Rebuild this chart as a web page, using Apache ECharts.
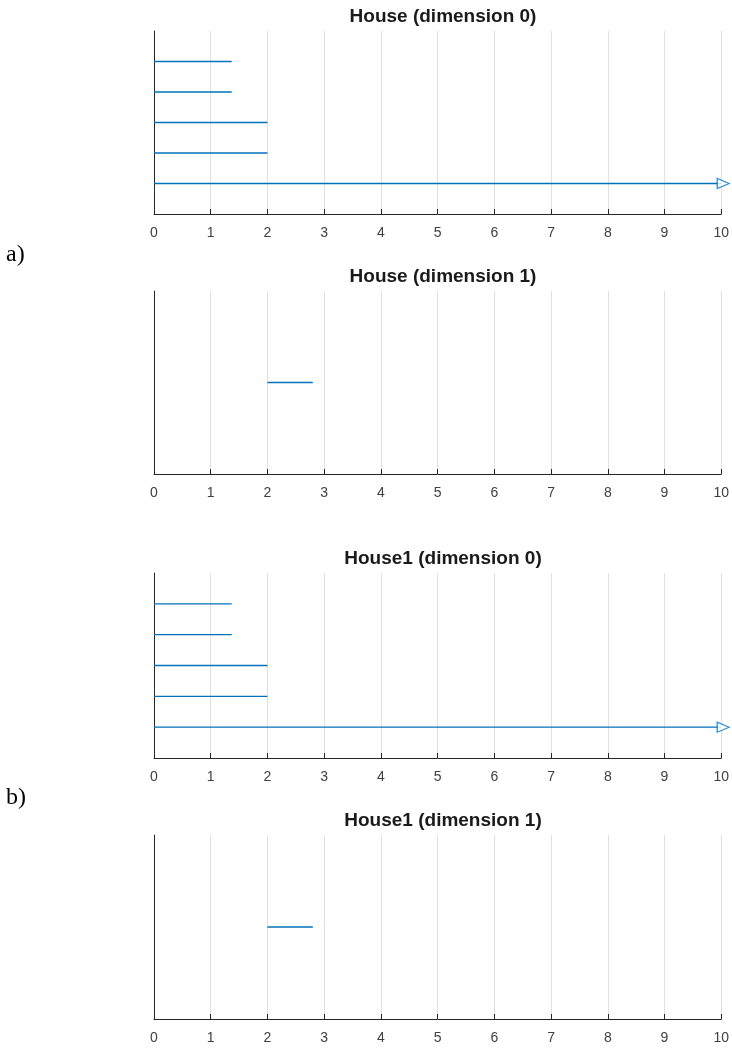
<!DOCTYPE html>
<html>
<head>
<meta charset="utf-8">
<script src="https://cdn.jsdelivr.net/npm/echarts@6/dist/echarts.min.js"></script>
<style>
html,body{margin:0;padding:0;background:#fff;}
#c{width:732px;height:1048px;}
</style>
</head>
<body>
<div id="c"></div>
<script>
// ---- data ----
const xTicks = [0,1,2,3,4,5,6,7,8,9,10];
const titles = ['House (dimension 0)','House (dimension 1)','House1 (dimension 0)','House1 (dimension 1)'];
const panelLabels = ['a)','b)'];
// bars listed top to bottom; null death = infinite (drawn to axis max with an arrow)
const houseDim0Births = [0,0,0,0,0];
const houseDim0Deaths = [1.37,1.37,2,2,null];
const houseDim1Births = [2];
const houseDim1Deaths = [2.8];
const house1Dim0Births = [0,0,0,0,0];
const house1Dim0Deaths = [1.37,1.37,2,2,null];
const house1Dim1Births = [2];
const house1Dim1Deaths = [2.8];

const panels = [
  {b: houseDim0Births, d: houseDim0Deaths},
  {b: houseDim1Births, d: houseDim1Deaths},
  {b: house1Dim0Births, d: house1Dim0Deaths},
  {b: house1Dim1Births, d: house1Dim1Deaths}
];
const xMax = xTicks[xTicks.length-1];

const gridPos = [
  {top:31, height:183},
  {top:291, height:183},
  {top:573, height:185},
  {top:835, height:184}
];
const blue = '#0072BD';
const axisCol = '#262626';

const option = {
  animation:false,
  backgroundColor:'#fff',
  title: titles.map((t,i)=>({
    text:t, left:438, textAlign:'center', top:gridPos[i].top-29,
    textStyle:{fontFamily:'Liberation Sans, Arial', fontSize:19, fontWeight:'bold', color:'#1a1a1a'}
  })),
  graphic: [
    {type:'text', left:6, top:243, style:{text:panelLabels[0], font:'24px "Liberation Serif", serif', fill:'#000'}},
    {type:'text', left:6, top:786, style:{text:panelLabels[1], font:'24px "Liberation Serif", serif', fill:'#000'}}
  ],
  grid: gridPos.map(g=>({left:154, right:10, top:g.top, height:g.height, containLabel:false})),
  xAxis: gridPos.map((g,i)=>({
    type:'value', gridIndex:i, min:0, max:xMax, interval:1,
    axisLine:{show:true, lineStyle:{color:axisCol, width:1}},
    axisTick:{show:true, inside:true, length:5, lineStyle:{color:axisCol}},
    axisLabel:{color:'#404040', fontFamily:'Liberation Sans, Arial', fontSize:14, margin:12},
    splitLine:{show:true, lineStyle:{color:'#e0e0e0', width:1}}
  })),
  yAxis: panels.map((p,i)=>({
    type:'value', gridIndex:i, min:0, max:p.b.length+1,
    axisLine:{show:true, onZero:false, lineStyle:{color:axisCol, width:1}},
    axisTick:{show:false}, axisLabel:{show:false}, splitLine:{show:false}
  })),
  series: []
};

panels.forEach((p,i)=>{
  const n = p.b.length;
  p.b.forEach((b,k)=>{
    const y = n - k;
    const d = p.d[k] === null ? xMax : p.d[k];
    option.series.push({
      type:'line', xAxisIndex:i, yAxisIndex:i, data:[[b,y],[d,y]],
      symbol:'none', lineStyle:{color:blue, width:1.3}, silent:true
    });
    if (p.d[k] === null) {
      option.series.push({
        type:'scatter', xAxisIndex:i, yAxisIndex:i, data:[[xMax,y]],
        symbol:'triangle', symbolSize:[10,12], symbolRotate:-90, symbolOffset:[2,0],
        itemStyle:{color:'#fff', borderColor:blue, borderWidth:1.2}, silent:true, z:5
      });
    }
  });
});

echarts.init(document.getElementById('c')).setOption(option);
</script>
</body>
</html>
